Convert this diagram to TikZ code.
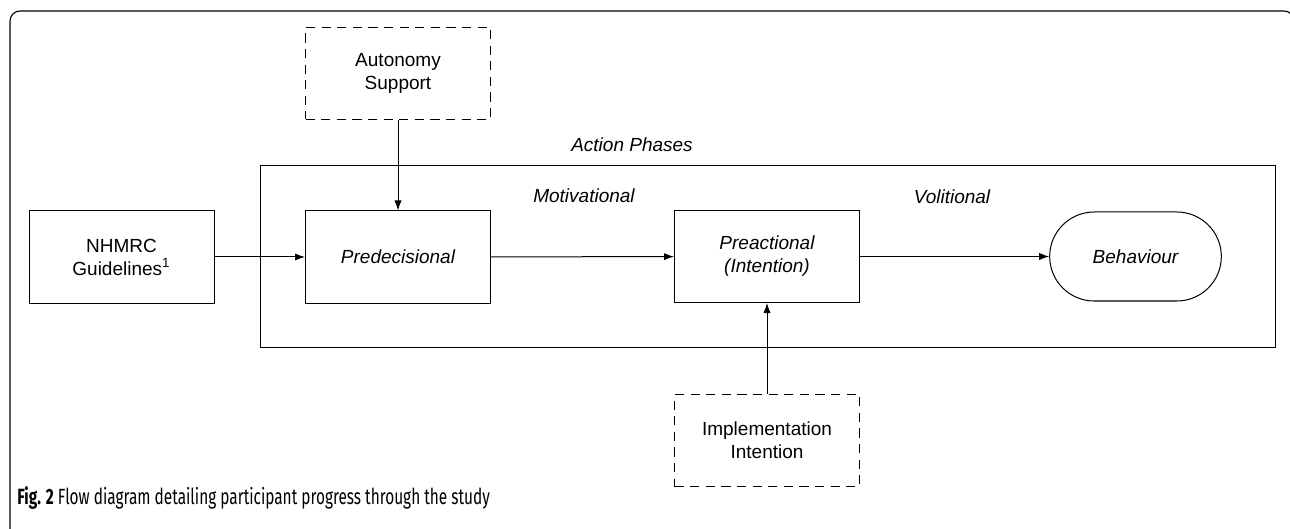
\documentclass[tikz,border=0pt]{standalone}
\usepackage{fontspec}
\setmainfont{Liberation Sans}
\newfontfamily\capfont[FakeStretch=0.70]{Fira Sans}
\usepackage{tikz}
\usetikzlibrary{shapes.misc,arrows.meta}

\tikzset{
  phasebox/.style={draw, line width=0.5pt, minimum width=92.5pt, minimum height=46pt,
    align=center, font=\fontsize{9.5}{11.5}\selectfont},
  extbox/.style={phasebox, dashed, dash pattern=on 4.6pt off 3.2pt},
  endbox/.style={phasebox, rounded rectangle, minimum height=44.5pt},
  phaselabel/.style={font=\fontsize{9.5}{11.5}\selectfont\itshape},
  flow/.style={-{Latex[length=5pt,width=3.6pt]}, line width=0.5pt}
}

\begin{document}
\begin{tikzpicture}[x=0.5pt, y=-0.5pt]

      \useasboundingbox (0,0) rectangle (1290,529);

      % frame of the figure
      \draw[line width=0.55pt, rounded corners=5pt] (10,540) -- (10,11) -- (1294,11) -- (1294,540);

      % action phases
      \node[draw, line width=0.5pt, minimum width=507.5pt, minimum height=90.5pt] (phases) at (767.5,256.5) {};
      \node[phaselabel] (phasestitle) at (632,145) {Action Phases};
      \node[phaselabel] (motiv) at (584,196) {Motivational};
      \node[phaselabel] (volit) at (952,197) {Volitional};

      \node[phasebox] (nhmrc) at (121.5,257) {NHMRC\\Guidelines\textsuperscript{1}};
      \node[phasebox, font=\fontsize{9.5}{11.5}\selectfont\itshape] (predec) at (398,257) {Predecisional};
      \node[phasebox, font=\fontsize{9.5}{11.5}\selectfont\itshape] (preact) at (767,256.5) {Preactional\\(Intention)};
      \node[endbox, font=\fontsize{9.5}{11.5}\selectfont\itshape, minimum width=92.5pt] (behav) at (1135.5,256.5) {Behaviour};

      \node[extbox] (autonomy) at (398,73.5) {Autonomy\\Support};
      \node[extbox] (implement) at (767,440.5) {Implementation\\Intention};

      \draw[flow] (nhmrc) -- (predec);
      \draw[flow] (predec) -- (preact);
      \draw[flow] (preact) -- (behav);
      \draw[flow] (autonomy) -- (predec);
      \draw[flow] (implement) -- (preact);

      % caption
      \node[anchor=base west, inner sep=0pt, font=\capfont\fontsize{11}{13}\selectfont] (caption) at (17,504)
        {\textbf{Fig. 2} Flow diagram detailing participant progress through the study};

\end{tikzpicture}
\end{document}
